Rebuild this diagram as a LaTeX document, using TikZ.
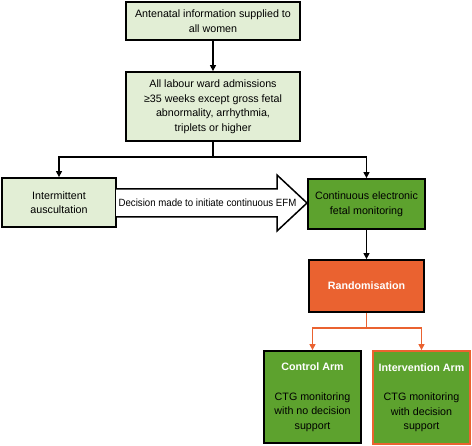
\documentclass[tikz,border=0pt]{standalone}
\usepackage{fontspec}
\setmainfont{Liberation Sans}
\usetikzlibrary{arrows.meta,calc}
\definecolor{lgreen}{HTML}{E2EED5}
\definecolor{dgreen}{HTML}{5DA22E}
\definecolor{orng}{HTML}{EA6230}
\begin{document}
\begin{tikzpicture}[x=1pt,y=-1pt,
  box/.style={draw=black,line width=1.8pt,align=center,inner sep=0pt,font=\fontsize{10.7}{14.5}\selectfont},
  lbox/.style={box,fill=lgreen},
  gbox/.style={box,fill=dgreen},
  conn/.style={line width=1.3pt,-{Triangle[length=6pt,width=6pt]}},
  oconn/.style={conn,draw=orng,-{Triangle[length=6pt,width=6pt]},color=orng},
]
\useasboundingbox (0,0) rectangle (472,446);
\node[lbox,minimum width=174pt,minimum height=38pt] (b1) at (213,21) {Antenatal information supplied to\\all women};
\node[lbox,minimum width=174pt,minimum height=69pt] (b2) at (213,106.5) {All labour ward admissions\\≥35 weeks except gross fetal\\abnormality, arrhythmia,\\triplets or higher};
\node[lbox,minimum width=114pt,minimum height=49pt] (ia) at (59,202.5) {Intermittent\\auscultation};
\node[gbox,minimum width=117pt,minimum height=50pt] (cm) at (366.5,204) {Continuous electronic\\fetal monitoring};
\node[box,fill=orng,minimum width=115pt,minimum height=52pt,text=white,font=\fontsize{10.7}{14.5}\selectfont\bfseries] (rd) at (366.5,286) {Randomisation};
\node[gbox,minimum width=97pt,minimum height=92pt] (ca) at (312.5,397) {\textcolor{white}{\bfseries Control Arm}\\[15pt]CTG monitoring\\with no decision\\support};
\node[gbox,draw=orng,minimum width=97pt,minimum height=93pt] (iv) at (421.5,397.5) {\textcolor{white}{\bfseries Intervention Arm}\\[15pt]CTG monitoring\\with decision\\support};
\draw[conn] (b1.south) -- (b2.north);
\coordinate (split) at ($(b2.south)+(0,15)$);
\draw[line width=1.3pt] (b2.south) -- (split);
\draw[conn] (split) -| (ia.north);
\draw[conn] (split) -| (cm.north);
\draw[conn] (cm.south) -- (rd.north);
\coordinate (osplit) at ($(rd.south)+(0,15)$);
\draw[line width=1.3pt,orng] (rd.south) -- (osplit);
\draw[oconn] (osplit) -| (ca.north);
\draw[oconn] (osplit) -| (iv.north);
\draw[line width=1.5pt,fill=white,line join=miter] (116,189) -- (277,189) -- (277,175) -- (307,203) -- (277,231) -- (277,217) -- (116,217);
\node[font=\fontsize{10.5}{14.5}\selectfont,inner sep=0pt] (dec) at (207.5,203) {\scalebox{0.92}[1]{Decision made to initiate continuous EFM}};
\end{tikzpicture}
\end{document}
